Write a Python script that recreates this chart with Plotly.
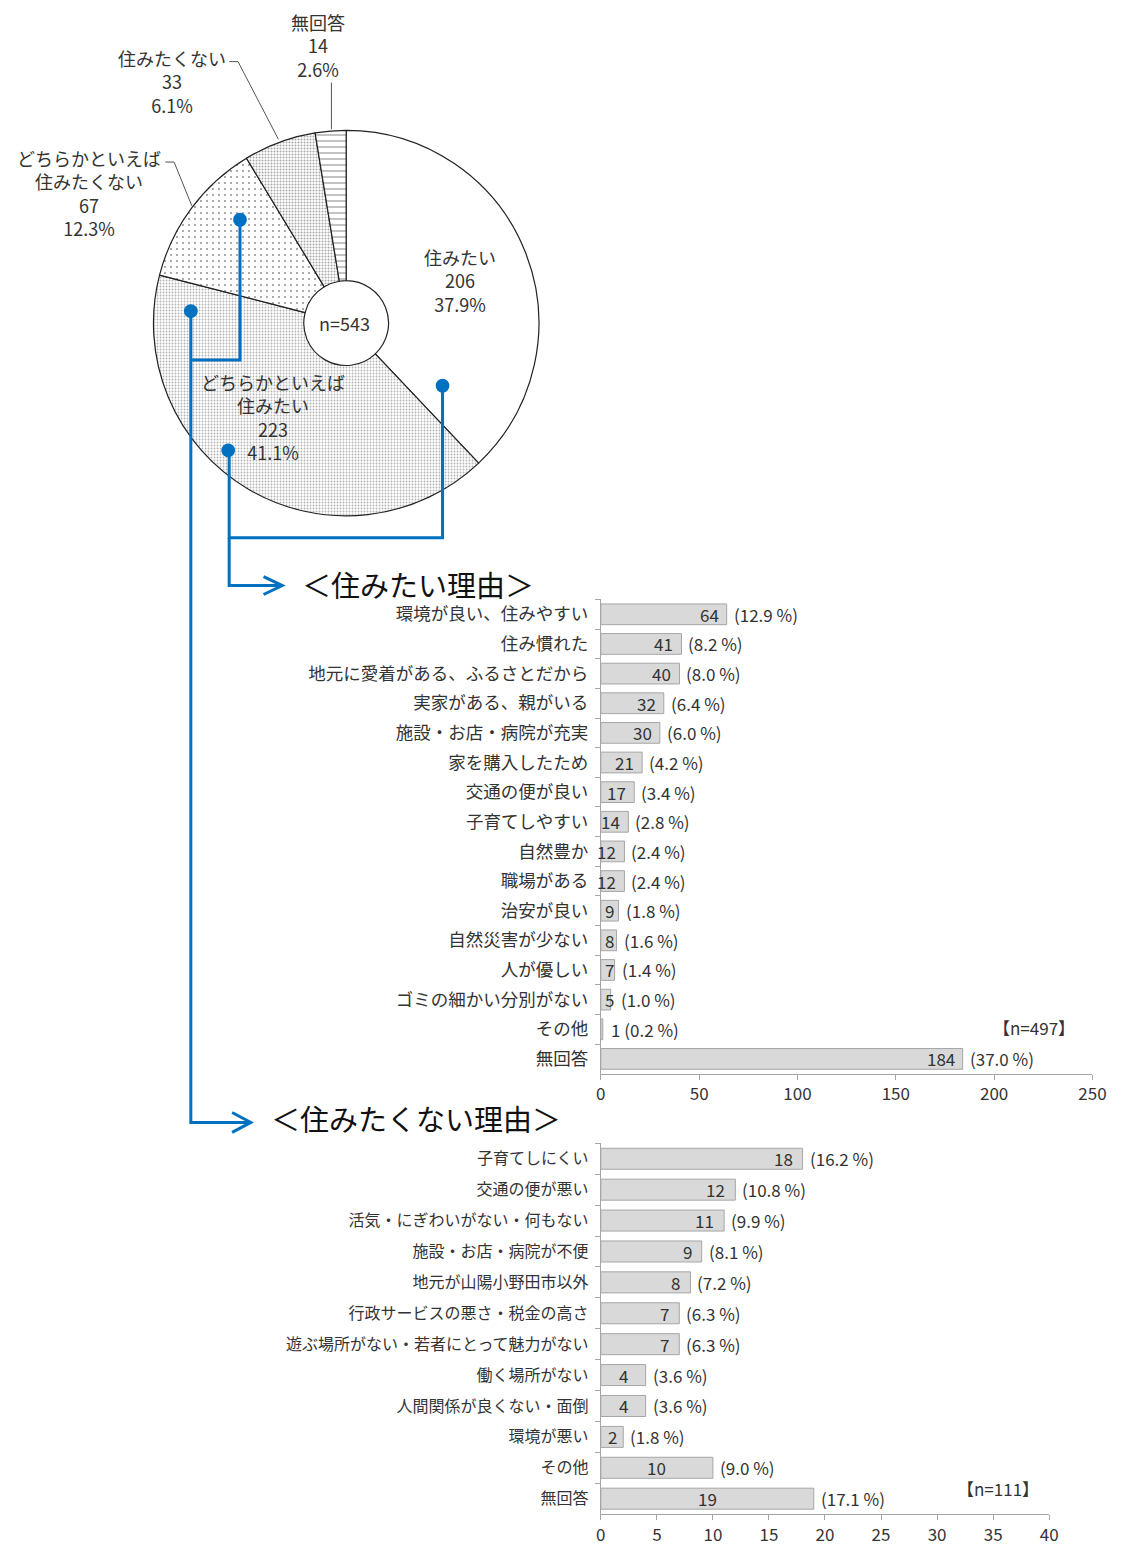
import plotly.graph_objects as go

W, H = 1132, 1546
FONT = "Noto Sans CJK JP"
BLUE = "#0070C0"

# ---- data ----
pie_labels = ["住みたい", "どちらかといえば<br>住みたい", "どちらかといえば<br>住みたくない", "住みたくない", "無回答"]
pie_values = [206, 223, 67, 33, 14]
pie_pcts = ["37.9%", "41.1%", "12.3%", "6.1%", "2.6%"]
pie_total = 543

like_reasons = ["環境が良い、住みやすい", "住み慣れた", "地元に愛着がある、ふるさとだから",
                "実家がある、親がいる", "施設・お店・病院が充実", "家を購入したため",
                "交通の便が良い", "子育てしやすい", "自然豊か", "職場がある", "治安が良い",
                "自然災害が少ない", "人が優しい", "ゴミの細かい分別がない", "その他", "無回答"]
like_counts = [64, 41, 40, 32, 30, 21, 17, 14, 12, 12, 9, 8, 7, 5, 1, 184]
like_pcts = [12.9, 8.2, 8.0, 6.4, 6.0, 4.2, 3.4, 2.8, 2.4, 2.4, 1.8, 1.6, 1.4, 1.0, 0.2, 37.0]
like_n = 497

dislike_reasons = ["子育てしにくい", "交通の便が悪い", "活気・にぎわいがない・何もない",
                   "施設・お店・病院が不便", "地元が山陽小野田市以外", "行政サービスの悪さ・税金の高さ",
                   "遊ぶ場所がない・若者にとって魅力がない", "働く場所がない", "人間関係が良くない・面倒",
                   "環境が悪い", "その他", "無回答"]
dislike_counts = [18, 12, 11, 9, 8, 7, 7, 4, 4, 2, 10, 19]
dislike_pcts = [16.2, 10.8, 9.9, 8.1, 7.2, 6.3, 6.3, 3.6, 3.6, 1.8, 9.0, 17.1]
dislike_n = 111


def px(x):
    return x / W


def py(y):
    return 1 - y / H


fig = go.Figure()

# ---- donut ----
fig.add_trace(go.Pie(
    labels=pie_labels, values=pie_values, sort=False, direction="clockwise",
    rotation=0, hole=0.22, textinfo="none", hoverinfo="label+value+percent",
    domain=dict(x=[px(151), px(543)], y=[py(521), py(129)]),
    marker=dict(
        colors=["white"] * 5,
        line=dict(color="#222222", width=1.2),
        pattern=dict(
            shape=["", ".", ".", ".", "-"],
            fgcolor=["#ffffff", "#b4b4b4", "#8a8a8a", "#a8a8a8", "#9a9a9a"], bgcolor="white",
            size=[3, 3, 6, 3, 6], solidity=[0.2, 0.3, 0.08, 0.35, 0.2],
        ),
    ),
))

# ---- bar charts ----
bar_style = dict(color="#d9d9d9", line=dict(color="#a6a6a6", width=1))
fig.add_trace(go.Bar(
    x=like_counts, y=like_reasons, orientation="h", marker=bar_style,
    width=0.7, xaxis="x", yaxis="y", hoverinfo="x+y",
))
fig.add_trace(go.Bar(
    x=dislike_counts, y=dislike_reasons, orientation="h", marker=bar_style,
    width=0.68, xaxis="x2", yaxis="y2", hoverinfo="x+y",
))

line_common = dict(showgrid=False, zeroline=False, showline=True, linecolor="#a6a6a6",
                   ticks="outside", tickcolor="#a6a6a6", ticklen=5)
xfont = dict(family=FONT, size=17, color="#333333")

fig.update_layout(
    # sized to fit inside the default body margins; resized to full window in post_script
    width=W - 16, height=H - 16, margin=dict(l=0, r=0, t=0, b=0),
    paper_bgcolor="white", plot_bgcolor="white", showlegend=False,
    font=dict(family=FONT, color="#333333"),
    xaxis=dict(domain=[px(606), px(1106)], range=[0, 250], dtick=50, anchor="y",
               tickfont=xfont, **line_common),
    yaxis=dict(domain=[py(1080), py(603)], autorange="reversed", anchor="x",
               tickson="boundaries", ticklabelstandoff=8,
               tickfont=dict(family=FONT, size=17.5, color="#333333"), **line_common),
    xaxis2=dict(domain=[px(606), px(1062)], range=[0, 40], dtick=5, anchor="y2",
                tickfont=xfont, **line_common),
    yaxis2=dict(domain=[py(1523), py(1150)], autorange="reversed", anchor="x2",
                tickson="boundaries", ticklabelstandoff=8,
                tickfont=dict(family=FONT, size=16, color="#333333"), **line_common),
)

ann = []
lab_font = dict(family=FONT, size=17, color="#333333")

# bar value labels chart 1
for r, c, p in zip(like_reasons, like_counts, like_pcts):
    if c < 3:
        ann.append(dict(x=c, y=r, xref="x", yref="y", text=f"{c} ({p:.1f} %)", showarrow=False,
                        xanchor="left", yanchor="middle", xshift=6, font=lab_font))
        continue
    if c < 10:
        ann.append(dict(x=0, y=r, xref="x", yref="y", text=str(c), showarrow=False,
                        xanchor="left", yanchor="middle", xshift=2, font=lab_font))
    else:
        ann.append(dict(x=c, y=r, xref="x", yref="y", text=str(c), showarrow=False,
                        xanchor="right", yanchor="middle", xshift=-6, font=lab_font))
    ann.append(dict(x=c, y=r, xref="x", yref="y", text=f"({p:.1f} %)", showarrow=False,
                    xanchor="left", yanchor="middle", xshift=5 if c > 5 else 8, font=lab_font))

# bar value labels chart 2
for r, c, p in zip(dislike_reasons, dislike_counts, dislike_pcts):
    if r in ("その他", "無回答") or c <= 4:
        ann.append(dict(x=c / 2, y=r, xref="x2", yref="y2", text=str(c), showarrow=False,
                        xanchor="center", yanchor="middle", font=lab_font))
    else:
        ann.append(dict(x=c, y=r, xref="x2", yref="y2", text=str(c), showarrow=False,
                        xanchor="right", yanchor="middle", xshift=-8, font=lab_font))
    ann.append(dict(x=c, y=r, xref="x2", yref="y2", text=f"({p:.1f} %)", showarrow=False,
                    xanchor="left", yanchor="middle", xshift=5, font=lab_font))


def paper_text(x, y, text, font, xanchor="center"):
    return dict(x=px(x), y=py(y), xref="paper", yref="paper", text=text, showarrow=False,
                xanchor=xanchor, yanchor="middle", align="center", font=font)


ann.append(paper_text(1047, 1034, f"【n={like_n}】", lab_font))
ann.append(paper_text(1010, 1497, f"【n={dislike_n}】", lab_font))

# section titles
title_font = dict(family=FONT, size=29, color="#111111")
ann.append(paper_text(300, 587, "＜住みたい理由＞", title_font, xanchor="left"))
ann.append(paper_text(268, 1125, "＜住みたくない理由＞", title_font, xanchor="left"))

# pie labels
pie_font = dict(family=FONT, size=18, color="#333333")
pie_pos = [(463, 282), (273, 419), (85, 194), (170, 82), (318, 46)]
for lab, v, pc, (lx, ly) in zip(pie_labels, pie_values, pie_pcts, pie_pos):
    ann.append(paper_text(lx, ly, f"{lab}<br>{v}<br>{pc}", pie_font))
ann.append(paper_text(345, 325, f"n={pie_total}", pie_font))

shapes = []
# leader lines
lead = dict(color="#555555", width=1)
for pts in [[(332, 83), (332, 130)],
            [(228, 62), (237, 62), (278, 140)],
            [(163, 163), (172, 163), (190, 207)]]:
    d = "M " + " L ".join(f"{px(x)},{py(y)}" for x, y in pts)
    shapes.append(dict(type="path", xref="paper", yref="paper", path=d, line=lead))

# blue connectors
blue_line = dict(color=BLUE, width=3)
for pts in [[(445, 388), (445, 541), (228, 541), (228, 453)],
            [(228, 541), (228, 589), (280, 589)],
            [(239, 221), (239, 362), (189, 362)],
            [(189, 313), (189, 1129), (248, 1129)],
            [(263, 580), (282, 589), (263, 598)],
            [(231, 1119), (250, 1129), (231, 1139)]]:
    d = "M " + " L ".join(f"{px(x)},{py(y)}" for x, y in pts)
    shapes.append(dict(type="path", xref="paper", yref="paper", path=d, line=blue_line))
for cx, cy in [(445, 388), (227, 453), (239, 221), (189, 313)]:
    r = 7
    shapes.append(dict(type="circle", xref="paper", yref="paper",
                       x0=px(cx - r), x1=px(cx + r), y0=py(cy + r), y1=py(cy - r),
                       fillcolor=BLUE, line=dict(color=BLUE, width=0)))

fig.update_layout(annotations=ann, shapes=shapes)

post = """
var gd = document.getElementById('{plot_id}');
document.body.style.margin = '0';
gd.style.position = 'fixed';
gd.style.left = '0px';
gd.style.top = '0px';
gd.style.width = '%dpx';
gd.style.height = '%dpx';
return Plotly.relayout(gd, {width: %d, height: %d});
""" % (W, H, W, H)

fig.write_html("out.html", config={"displayModeBar": False}, post_script=post)
